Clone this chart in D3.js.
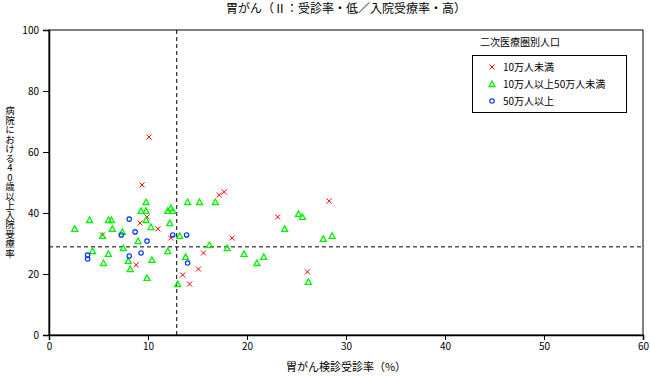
<!DOCTYPE html>
<html><head><meta charset="utf-8">
<script src="https://cdn.jsdelivr.net/npm/d3@7"></script>
<style>
body{margin:0;background:#fff;}
text{font-family:"Noto Sans CJK JP","Noto Sans",sans-serif;fill:#000;}
</style></head>
<body><svg id="c" width="650" height="376"></svg>
<script>
const title = "胃がん（Ⅱ：受診率・低／入院受療率・高）";
const xLabel = "胃がん検診受診率（%）";
const yLabel = "病院における40歳以上入院受療率";
const legendTitle = "二次医療圏別人口";
const seriesNames = ["10万人未満", "10万人以上50万人未満", "50万人以上"];
const seriesColors = ["#ff0000", "#00f000", "#0033ff"];
const xTicks = [0, 10, 20, 30, 40, 50, 60];
const yTicks = [0, 20, 40, 60, 80, 100];
const refX = 12.9;
const refY = 28.9;

// series: [x, y]
const small = [[10.1,64.9],[9.4,49.2],[9.9,38.7],[9.2,36.7],[11.0,34.8],[12.3,31.8],[17.2,45.9],[17.7,46.9],[18.5,31.8],[15.6,26.9],[15.1,21.6],[13.5,19.7],[14.2,16.7],[8.8,23.0],[5.4,32.8],[23.1,38.7],[28.3,43.9],[26.1,20.7]];
const medium = [[2.6,34.8],[4.1,37.7],[6.0,37.7],[6.3,37.7],[6.4,34.8],[5.4,32.5],[4.4,27.5],[6.0,26.6],[5.5,23.6],[9.8,43.6],[9.3,40.7],[9.8,40.7],[9.8,37.7],[10.3,35.4],[7.4,33.8],[9.0,30.8],[7.5,28.5],[8.0,24.3],[10.4,24.6],[8.2,21.6],[9.9,18.7],[12.0,40.7],[12.3,41.6],[12.5,40.7],[12.2,36.7],[13.2,32.5],[12.0,27.5],[13.0,16.7],[14.0,43.6],[15.2,43.6],[16.8,43.6],[13.8,25.6],[16.2,29.5],[18.0,28.5],[19.7,26.6],[25.2,39.7],[25.6,38.7],[23.8,34.8],[27.7,31.5],[28.6,32.5],[21.7,25.6],[21.0,23.6],[26.2,17.4]];
const large = [[3.9,26.2],[3.9,24.9],[8.1,38.0],[8.7,33.8],[7.3,32.8],[9.9,30.8],[9.3,26.9],[8.1,25.9],[12.5,32.8],[13.9,32.8],[14.0,23.6]];

const svg = d3.select("#c");
const L = 49, R = 643, T = 30, B = 335;
const x = d3.scaleLinear().domain([0, 60]).range([L, R]);
const y = d3.scaleLinear().domain([0, 100]).range([B, T]);

svg.append("text").attr("x", 346).attr("y", 13).attr("text-anchor", "middle")
  .attr("font-size", 12).text(title);

// frame
svg.append("rect").attr("x", L).attr("y", T).attr("width", R - L).attr("height", B - T)
  .attr("fill", "none").attr("stroke", "#000").attr("stroke-width", 1);

const xAxis = svg.append("g").attr("transform", `translate(0,${B})`)
  .call(d3.axisBottom(x).tickValues(xTicks).tickSize(5).tickPadding(3).tickFormat(d3.format("d")));
const yAxis = svg.append("g").attr("transform", `translate(${L},0)`)
  .call(d3.axisLeft(y).tickValues(yTicks).tickSize(6).tickPadding(4).tickFormat(d3.format("d")));
[xAxis, yAxis].forEach(g => {
  g.select(".domain").attr("stroke", "#000").attr("stroke-width", 1.5);
  g.selectAll("text").attr("font-size", 10).attr("font-family", "\"Noto Sans CJK JP\",sans-serif");
});

// reference lines
svg.append("line").attr("x1", x(refX)).attr("x2", x(refX)).attr("y1", T).attr("y2", B)
  .attr("stroke", "#000").attr("stroke-dasharray", "4,3");
svg.append("line").attr("x1", L).attr("x2", R).attr("y1", y(refY)).attr("y2", y(refY))
  .attr("stroke", "#000").attr("stroke-dasharray", "4,3");

// axis labels
svg.append("text").attr("x", 346).attr("y", 371).attr("text-anchor", "middle")
  .attr("font-size", 11).text(xLabel);
svg.append("text").attr("x", 10).attr("y", 182)
  .attr("text-anchor", "middle").attr("font-size", 9.5)
  .style("writing-mode", "vertical-rl").style("text-orientation", "upright")
  .text(yLabel);

// markers
const sym = [
  (g, c) => g.append("path").attr("d", "M-2.5,-2.5L2.5,2.5M-2.5,2.5L2.5,-2.5").attr("stroke", c).attr("fill", "none"),
  (g, c) => g.append("path").attr("d", "M0,-3L3,2.5L-3,2.5Z").attr("stroke", c).attr("fill", "none").attr("stroke-width", 1.3),
  (g, c) => g.append("circle").attr("r", 2.2).attr("stroke", c).attr("fill", "none").attr("stroke-width", 1.2)
];
const all = [small, medium, large];
all.forEach((data, si) => {
  const gs = svg.append("g").selectAll("g").data(data).join("g")
    .attr("transform", d => `translate(${x(d[0])},${y(d[1])})`);
  gs.each(function() { sym[si](d3.select(this), seriesColors[si]); });
});

// legend
svg.append("text").attr("x", 480).attr("y", 46).attr("font-size", 10).text(legendTitle);
svg.append("rect").attr("x", 472.5).attr("y", 55.5).attr("width", 154).attr("height", 57)
  .attr("fill", "#fff").attr("stroke", "#000");
seriesNames.forEach((n, i) => {
  const yy = 67 + i * 17;
  const g = svg.append("g").attr("transform", `translate(492,${yy})`);
  sym[i](g, seriesColors[i]);
  svg.append("text").attr("x", 503).attr("y", yy + 3.5).attr("font-size", 10).text(n);
});
</script></body></html>
